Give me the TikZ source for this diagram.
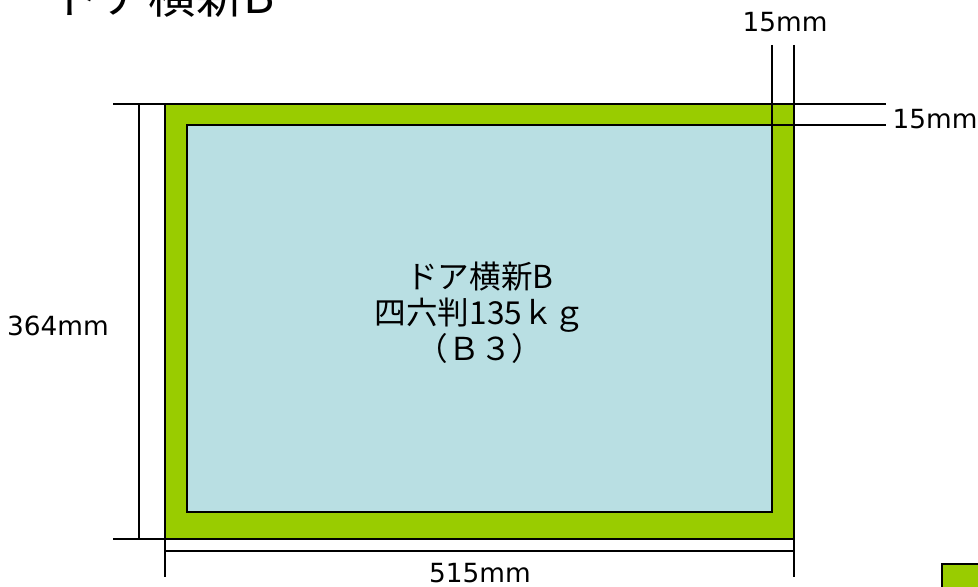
\documentclass[tikz,border=0pt]{standalone}
\usepackage{fontspec}
\setmainfont{Noto Sans CJK JP}
\newfontfamily\dimfont{DejaVu Sans}
\definecolor{framegreen}{RGB}{153,204,0}
\definecolor{paperblue}{RGB}{185,223,227}

\begin{document}
\begin{tikzpicture}[x=0.02cm,y=-0.02cm]
\tikzstyle{dimline}=[line width=1.1pt]
\tikzstyle{dimlabel}=[font=\dimfont\fontsize{15}{17}\selectfont, inner sep=0pt]
\tikzstyle{paper}=[fill=paperblue, draw, line width=1.2pt]
\tikzstyle{bleed}=[fill=framegreen, draw, line width=0.9pt]

\useasboundingbox (0,0) rectangle (978,587);

% corners of the sheet and of the trim area
\coordinate (O1) at (165,104);
\coordinate (O2) at (794,539);
\coordinate (I1) at (187,125);
\coordinate (I2) at (772,512);

\node[anchor=base west, inner sep=0pt, font=\fontsize{27}{30}\selectfont] (title) at (6,14) {・ドア横新B};

\fill[bleed] (O1) rectangle (O2);
\fill[paper] (I1) rectangle (I2);
\draw[bleed] (942,564) rectangle (1000,610);

\node[align=center, inner sep=0pt, font=\fontsize{18}{20.5}\selectfont] (spec) at (480,313)
  {ドア横新B\\四六判135ｋｇ\\（Ｂ３）};

% height
\coordinate (LT) at (113,104);
\coordinate (LB) at (113,539);
\draw[dimline] (LT) -- (190,104);
\draw[dimline] (LB) -- (190,539);
\draw[dimline] (139,104) -- (139,539);
\node[dimlabel] (height) at (58,326) {364mm};

% width
\draw[dimline] (O1 |- O2) -- (165,577);
\draw[dimline] (O2) -- (794,577);
\draw[dimline] (165,551) -- (794,551);
\node[dimlabel] (width) at (480,573) {515mm};

% margins
\draw[dimline] (772,45) -- (I2 |- I1);
\draw[dimline] (794,45) -- (O2 |- O1);
\node[dimlabel] (mtop) at (785,22) {15mm};
\draw[dimline] (772,104) -- (886,104);
\draw[dimline] (I2 |- I1) -- (886,125);
\node[dimlabel] (mright) at (935,119) {15mm};
\end{tikzpicture}
\end{document}
